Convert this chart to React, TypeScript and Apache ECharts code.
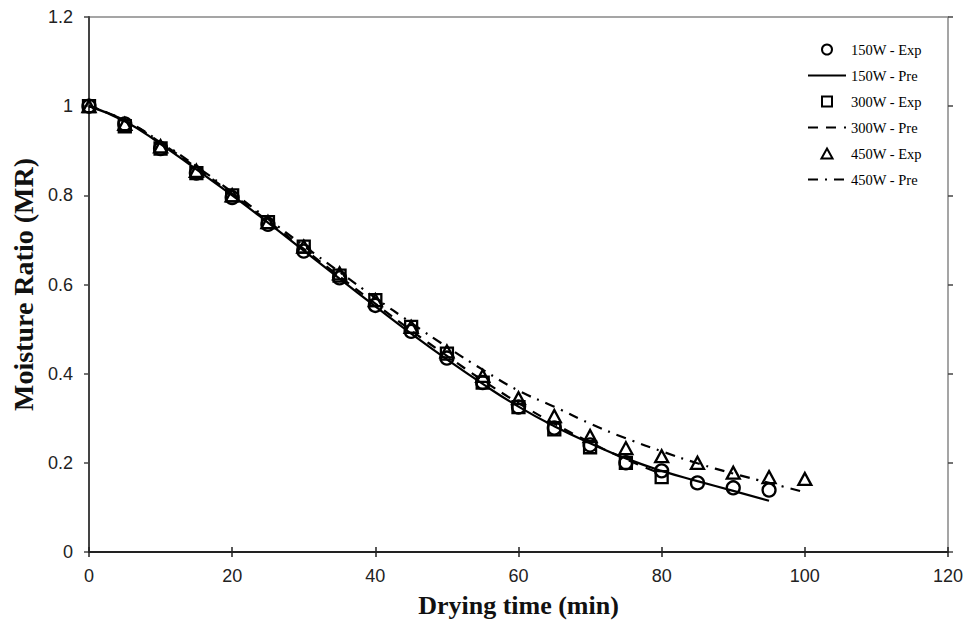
import React, { useEffect, useRef } from 'react';
import * as echarts from 'echarts';

const time150 = [0, 5, 10, 15, 20, 25, 30, 35, 40, 45, 50, 55, 60, 65, 70, 75, 80, 85, 90, 95];
const exp150 = [1.0, 0.96, 0.905, 0.85, 0.795, 0.735, 0.675, 0.615, 0.553, 0.495, 0.435, 0.38, 0.325, 0.278, 0.24, 0.2, 0.182, 0.155, 0.144, 0.139];
const pre150 = [1.0, 0.966, 0.915, 0.858, 0.8, 0.739, 0.676, 0.613, 0.551, 0.49, 0.432, 0.377, 0.326, 0.282, 0.244, 0.21, 0.182, 0.159, 0.137, 0.115];

const time300 = [0, 5, 10, 15, 20, 25, 30, 35, 40, 45, 50, 55, 60, 65, 70, 75, 80];
const exp300 = [1.0, 0.955, 0.905, 0.85, 0.8, 0.74, 0.685, 0.62, 0.565, 0.505, 0.445, 0.38, 0.325, 0.275, 0.235, 0.2, 0.168];
const pre300 = [1.0, 0.968, 0.918, 0.862, 0.803, 0.742, 0.68, 0.618, 0.557, 0.497, 0.44, 0.385, 0.334, 0.288, 0.246, 0.208, 0.175];

const time450 = [0, 5, 10, 15, 20, 25, 30, 35, 40, 45, 50, 55, 60, 65, 70, 75, 80, 85, 90, 95, 100];
const exp450 = [1.0, 0.96, 0.91, 0.855, 0.8, 0.74, 0.685, 0.625, 0.565, 0.505, 0.45, 0.395, 0.345, 0.305, 0.26, 0.233, 0.215, 0.2, 0.178, 0.168, 0.164];
const pre450 = [1.0, 0.968, 0.92, 0.865, 0.807, 0.747, 0.687, 0.628, 0.57, 0.514, 0.46, 0.409, 0.362, 0.326, 0.288, 0.255, 0.226, 0.199, 0.176, 0.155, 0.134];

const seriesNames = ['150W - Exp', '150W - Pre', '300W - Exp', '300W - Pre', '450W - Exp', '450W - Pre'];
const xAxisName = 'Drying time (min)';
const yAxisName = 'Moisture Ratio (MR)';

const pairs = (t: number[], v: number[]) => t.map((x, i) => [x, v[i]]);

const serif = 'Liberation Serif';
const sans = 'Liberation Sans';

export default function App() {
  const ref = useRef<HTMLDivElement>(null);
  useEffect(() => {
    if (!ref.current) return;
    const chart = echarts.init(ref.current, null, { renderer: 'svg' });
    const gridW = 859;
    const gridH = 535;
    const scatterStyle = { color: 'rgba(0,0,0,0)', borderColor: '#000', borderWidth: 2.3, opacity: 1 };
    const lineBase = { type: 'line' as const, smooth: true, symbol: 'none', z: 2 };
    const hiddenDot = { opacity: 0, color: 'rgba(0,0,0,0)', borderWidth: 0 };
    chart.setOption({
      animation: false,
      backgroundColor: '#fff',
      grid: { left: 89, top: 17, width: gridW, height: gridH, show: true, borderColor: '#888', borderWidth: 1.5, backgroundColor: 'transparent' },
      legend: {
        orient: 'vertical',
        left: 807,
        top: 42,
        padding: 0,
        itemWidth: 38,
        itemHeight: 10,
        itemGap: 11,
        selectedMode: false,
        textStyle: { fontFamily: serif, fontSize: 14.5, color: '#000' },
        data: [
          { name: seriesNames[0], icon: 'circle' },
          { name: seriesNames[1], itemStyle: hiddenDot },
          { name: seriesNames[2], icon: 'path://M0,0H10V10H0Z' },
          { name: seriesNames[3], itemStyle: hiddenDot },
          { name: seriesNames[4], icon: 'path://M5,0L10,9L0,9Z' },
          { name: seriesNames[5], itemStyle: hiddenDot },
        ],
      },
      xAxis: [
        {
          type: 'value', min: 0, max: 120, interval: 20,
          name: xAxisName, nameLocation: 'middle', nameGap: 40,
          nameTextStyle: { fontFamily: serif, fontSize: 26, fontWeight: 'bold', color: '#111' },
          axisLine: { show: true, onZero: false, lineStyle: { color: '#222', width: 2 } },
          axisTick: { show: true, length: 5, lineStyle: { color: '#222', width: 1.5 } },
          axisLabel: { margin: 15, fontFamily: sans, fontSize: 18, color: '#222' },
          splitLine: { show: false },
        },
        {
          type: 'value', min: 0, max: 120, interval: 20, position: 'top', offset: -gridH,
          axisLine: { show: false },
          axisTick: { show: true, length: 5, lineStyle: { color: '#222', width: 1.5 } },
          axisLabel: { show: false },
          splitLine: { show: false },
        },
      ],
      yAxis: [
        {
          type: 'value', min: 0, max: 1.2, interval: 0.2,
          name: yAxisName, nameLocation: 'middle', nameGap: 49,
          nameTextStyle: { fontFamily: serif, fontSize: 28, fontWeight: 'bold', color: '#111' },
          axisLine: { show: true, onZero: false, lineStyle: { color: '#444', width: 2 } },
          axisTick: { show: true, length: 5, lineStyle: { color: '#444', width: 1.5 } },
          axisLabel: { margin: 16, fontFamily: sans, fontSize: 18, color: '#222' },
          splitLine: { show: false },
        },
        {
          type: 'value', min: 0, max: 1.2, interval: 0.2, position: 'right', offset: -gridW,
          axisLine: { show: false },
          axisTick: { show: true, length: 5, lineStyle: { color: '#444', width: 1.5 } },
          axisLabel: { show: false },
          splitLine: { show: false },
        },
      ],
      series: [
        { name: seriesNames[0], type: 'scatter', symbol: 'circle', symbolSize: 13, itemStyle: scatterStyle, data: pairs(time150, exp150), z: 3 },
        { ...lineBase, name: seriesNames[1], lineStyle: { color: '#000', width: 2.2, type: 'solid' }, itemStyle: { color: '#000' }, data: pairs(time150, pre150) },
        { name: seriesNames[2], type: 'scatter', symbol: 'rect', symbolSize: 12, itemStyle: scatterStyle, data: pairs(time300, exp300), z: 3 },
        { ...lineBase, name: seriesNames[3], lineStyle: { color: '#000', width: 2.2, type: [10, 8] }, itemStyle: { color: '#000' }, data: pairs(time300, pre300) },
        { name: seriesNames[4], type: 'scatter', symbol: 'triangle', symbolSize: [13, 12], itemStyle: scatterStyle, data: pairs(time450, exp450), z: 3 },
        { ...lineBase, name: seriesNames[5], lineStyle: { color: '#000', width: 2.2, type: [10, 7, 2, 7] }, itemStyle: { color: '#000' }, data: pairs(time450, pre450) },
      ],
    });
    return () => chart.dispose();
  }, []);
  return <div ref={ref} style={{ position: 'fixed', left: 0, top: 0, width: 971, height: 629, background: '#fff' }} />;
}
